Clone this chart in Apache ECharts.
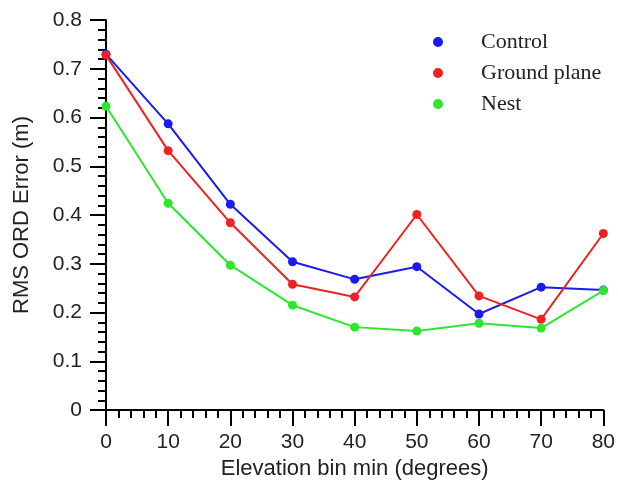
<!DOCTYPE html>
<html>
<head>
<meta charset="utf-8">
<script src="https://cdn.jsdelivr.net/npm/echarts@6/dist/echarts.min.js"></script>
<style>
html, body { margin: 0; padding: 0; background: #fff; }
#chart { width: 618px; height: 489px; }
</style>
</head>
<body>
<div id="chart"></div>
<script>
// elevation bin minimum (degrees)
const elevations = [0, 10, 20, 30, 40, 50, 60, 70, 80];
// RMS ORD error (m)
const controlErr = [0.730, 0.587, 0.422, 0.304, 0.268, 0.294, 0.197, 0.252, 0.246];
const groundPlaneErr = [0.728, 0.532, 0.384, 0.258, 0.232, 0.401, 0.234, 0.186, 0.362];
const nestErr = [0.623, 0.424, 0.297, 0.215, 0.170, 0.162, 0.178, 0.168, 0.245];

const seriesNames = ['Control', 'Ground plane', 'Nest'];
const seriesColors = ['#1a1af2', '#ee2222', '#2ee62e'];
const seriesData = [controlErr, groundPlaneErr, nestErr];

const chart = echarts.init(document.getElementById('chart'));

const sans = 'Liberation Sans, Arial, sans-serif';

const option = {
  animation: false,
  grid: { left: 106, right: 12, top: 20, bottom: 79 },
  legend: {
    orient: 'vertical',
    left: 428,
    top: 26,
    icon: 'circle',
    itemWidth: 10,
    itemHeight: 10,
    itemGap: 9,
    data: seriesNames,
    textStyle: {
      color: '#222',
      fontSize: 22,
      fontFamily: 'Liberation Serif, Times New Roman, serif',
      padding: [0, 0, 0, 33]
    }
  },
  xAxis: {
    type: 'value',
    min: 0,
    max: 80,
    interval: 10,
    name: 'Elevation bin min (degrees)',
    nameLocation: 'middle',
    nameGap: 47,
    nameTextStyle: { color: '#222', fontSize: 22, fontFamily: sans },
    axisLine: { lineStyle: { color: '#000', width: 2 } },
    axisTick: { length: 16, lineStyle: { color: '#000', width: 2 } },
    minorTick: { show: true, splitNumber: 5, length: 8, lineStyle: { color: '#000', width: 2 } },
    axisLabel: { margin: 22, showMaxLabel: true, color: '#222', fontSize: 21, fontFamily: sans },
    splitLine: { show: false }
  },
  yAxis: {
    type: 'value',
    min: 0,
    max: 0.8,
    interval: 0.1,
    name: 'RMS ORD Error (m)',
    nameLocation: 'middle',
    nameGap: 73,
    nameTextStyle: { color: '#222', fontSize: 22, fontFamily: sans },
    axisLine: { show: true, lineStyle: { color: '#000', width: 2 } },
    axisTick: { show: true, length: 16, lineStyle: { color: '#000', width: 2 } },
    minorTick: { show: true, splitNumber: 5, length: 8, lineStyle: { color: '#000', width: 2 } },
    axisLabel: { margin: 24, color: '#222', fontSize: 21, fontFamily: sans },
    splitLine: { show: false }
  },
  series: seriesNames.map((name, i) => ({
    name: name,
    type: 'line',
    data: elevations.map((x, j) => [x, seriesData[i][j]]),
    symbol: 'circle',
    symbolSize: 9,
    showSymbol: true,
    itemStyle: { color: seriesColors[i] },
    lineStyle: { color: seriesColors[i], width: 2 }
  }))
};

chart.setOption(option);
</script>
</body>
</html>
